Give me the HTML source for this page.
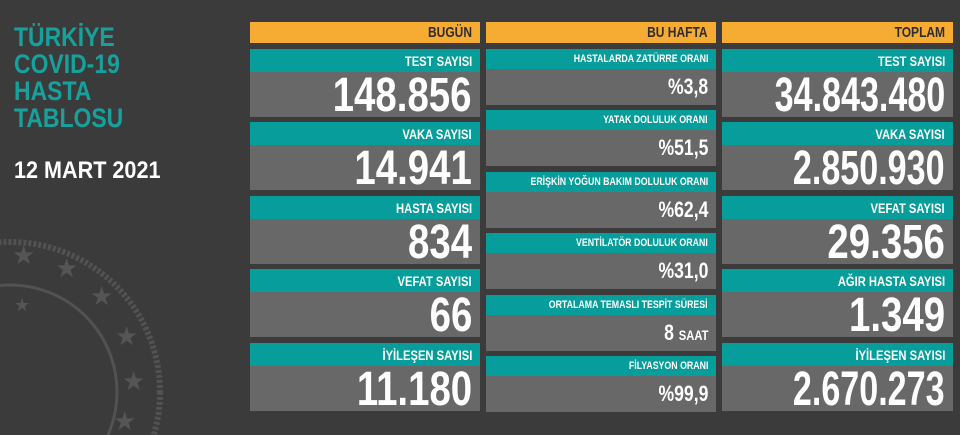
<!DOCTYPE html>
<html><head><meta charset="utf-8"><style>
html,body{margin:0;width:960px;height:435px;overflow:hidden}
body{background:#3b3b3b;position:relative;font-family:"Liberation Sans",sans-serif;font-weight:bold}
.a{position:absolute}
.t{color:#17a19c;font-size:27px;left:14px;line-height:27px;top:24px;transform:scaleX(.85);transform-origin:left}
.d{color:#fff;font-size:24px;left:14px;top:157px;transform:scaleX(.9);transform-origin:left;white-space:nowrap}
.hd{background:#f6ab33;color:#2e2e2e;height:21px;top:22px;font-size:15px;line-height:22px}
.hd,.lb,.vl{display:flex;justify-content:flex-end;align-items:flex-start;padding-right:8px;box-sizing:border-box;white-space:nowrap;overflow:hidden}
.hd span,.lb span,.vl span{display:block;flex:none;transform:scaleX(.8);transform-origin:right;white-space:nowrap}
.vl span.n{transform:scaleX(.71)}
.lb{background:#069d9b;color:#fff}
.vl{background:#686868;color:#fff}
</style></head><body>
<svg class="a" style="left:0;top:0" width="250" height="435">
<g fill="none" stroke="#525252">
<circle cx="10" cy="392" r="150" stroke-width="6" stroke-dasharray="3 2"/>
<circle cx="10" cy="392" r="107" stroke-width="3"/>
</g>
<g fill="#555" font-size="26" font-family="DejaVu Sans">
<text x="12" y="264">★</text><text x="55" y="277">★</text><text x="90" y="305">★</text><text x="115" y="345">★</text><text x="122" y="390">★</text><text x="113" y="430">★</text><text x="14" y="311" font-size="18">★</text>
</g>
</svg>
<div class="a t">TÜRKİYE<br>COVID-19<br>HASTA<br>TABLOSU</div>
<div class="a d">12 MART 2021</div>

<div class="a hd" style="left:250px;width:230px"><span>BUGÜN</span></div>
<div class="a hd" style="left:486px;width:230px"><span>BU HAFTA</span></div>
<div class="a hd" style="left:722px;width:231px"><span>TOPLAM</span></div>

<div class="a" style="left:250px;top:49px;width:230px">
<div class="lb" style="height:23px;font-size:14px;line-height:24px"><span>TEST SAYISI</span></div>
<div class="vl" style="height:45px;font-size:48px;line-height:48px"><span>148.856</span></div></div>
<div class="a" style="left:250px;top:122px;width:230px">
<div class="lb" style="height:23px;font-size:14px;line-height:24px"><span>VAKA SAYISI</span></div>
<div class="vl" style="height:45px;font-size:48px;line-height:48px"><span>14.941</span></div></div>
<div class="a" style="left:250px;top:196px;width:230px">
<div class="lb" style="height:23px;font-size:14px;line-height:24px"><span>HASTA SAYISI</span></div>
<div class="vl" style="height:45px;font-size:48px;line-height:48px"><span>834</span></div></div>
<div class="a" style="left:250px;top:269px;width:230px">
<div class="lb" style="height:23px;font-size:14px;line-height:24px"><span>VEFAT SAYISI</span></div>
<div class="vl" style="height:45px;font-size:48px;line-height:48px"><span>66</span></div></div>
<div class="a" style="left:250px;top:343px;width:230px">
<div class="lb" style="height:23px;font-size:14px;line-height:24px"><span>İYİLEŞEN SAYISI</span></div>
<div class="vl" style="height:45px;font-size:48px;line-height:48px"><span>11.180</span></div></div>

<div class="a" style="left:722px;top:49px;width:231px">
<div class="lb" style="height:23px;font-size:14px;line-height:24px"><span>TEST SAYISI</span></div>
<div class="vl" style="height:45px;font-size:48px;line-height:48px"><span class="n">34.843.480</span></div></div>
<div class="a" style="left:722px;top:122px;width:231px">
<div class="lb" style="height:23px;font-size:14px;line-height:24px"><span>VAKA SAYISI</span></div>
<div class="vl" style="height:45px;font-size:48px;line-height:48px"><span class="n">2.850.930</span></div></div>
<div class="a" style="left:722px;top:196px;width:231px">
<div class="lb" style="height:23px;font-size:14px;line-height:24px"><span>VEFAT SAYISI</span></div>
<div class="vl" style="height:45px;font-size:48px;line-height:48px"><span>29.356</span></div></div>
<div class="a" style="left:722px;top:269px;width:231px">
<div class="lb" style="height:23px;font-size:14px;line-height:24px"><span>AĞIR HASTA SAYISI</span></div>
<div class="vl" style="height:45px;font-size:48px;line-height:48px"><span>1.349</span></div></div>
<div class="a" style="left:722px;top:343px;width:231px">
<div class="lb" style="height:23px;font-size:14px;line-height:24px"><span>İYİLEŞEN SAYISI</span></div>
<div class="vl" style="height:45px;font-size:48px;line-height:48px"><span class="n">2.670.273</span></div></div>

<div class="a" style="left:486px;top:49px;width:230px">
<div class="lb" style="height:20px;font-size:11px;line-height:20px"><span>HASTALARDA ZATÜRRE ORANI</span></div>
<div class="vl" style="height:36px;font-size:22px;line-height:36px"><span>%3,8</span></div></div>
<div class="a" style="left:486px;top:110px;width:230px">
<div class="lb" style="height:20px;font-size:11px;line-height:20px"><span>YATAK DOLULUK ORANI</span></div>
<div class="vl" style="height:36px;font-size:22px;line-height:36px"><span>%51,5</span></div></div>
<div class="a" style="left:486px;top:172px;width:230px">
<div class="lb" style="height:20px;font-size:11px;line-height:20px"><span>ERİŞKİN YOĞUN BAKIM DOLULUK ORANI</span></div>
<div class="vl" style="height:36px;font-size:22px;line-height:36px"><span>%62,4</span></div></div>
<div class="a" style="left:486px;top:233px;width:230px">
<div class="lb" style="height:20px;font-size:11px;line-height:20px"><span>VENTİLATÖR DOLULUK ORANI</span></div>
<div class="vl" style="height:36px;font-size:22px;line-height:36px"><span>%31,0</span></div></div>
<div class="a" style="left:486px;top:295px;width:230px">
<div class="lb" style="height:20px;font-size:11px;line-height:20px"><span>ORTALAMA TEMASLI TESPİT SÜRESİ</span></div>
<div class="vl" style="height:36px;font-size:22px;line-height:36px"><span>8 <small style="font-size:14px">SAAT</small></span></div></div>
<div class="a" style="left:486px;top:356px;width:230px">
<div class="lb" style="height:20px;font-size:11px;line-height:20px"><span>FİLYASYON ORANI</span></div>
<div class="vl" style="height:36px;font-size:22px;line-height:36px"><span>%99,9</span></div></div>
</body></html>
